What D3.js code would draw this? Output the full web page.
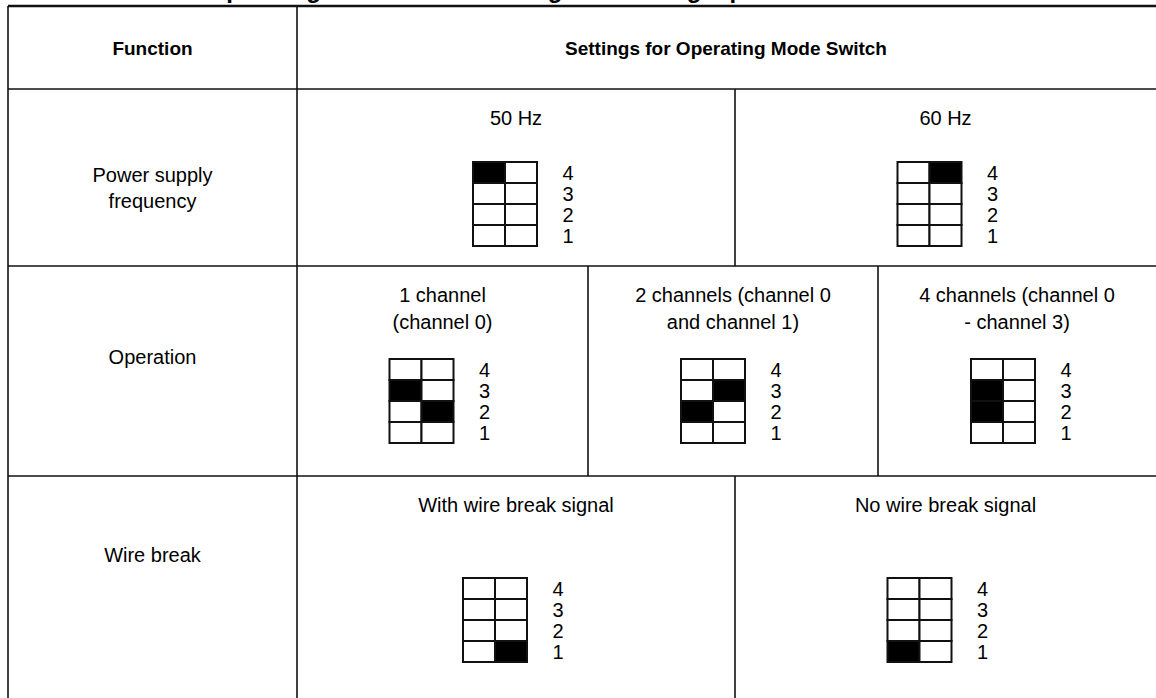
<!DOCTYPE html>
<html>
<head>
<meta charset="utf-8">
<style>
  body { margin: 0; background: #fff; }
  text { font-family: "Liberation Sans", Arial, sans-serif; fill: #000; }
</style>
<script src="https://d3js.org/d3.v7.min.js"></script>
</head>
<body>
<svg width="1156" height="698"></svg>
<script>
// table content
var title = "Table 4-2  Operating Mode Switch Settings for Analog Input Module";
var headers = ["Function", "Settings for Operating Mode Switch"];
var functions = [["Power supply", "frequency"], ["Operation"], ["Wire break"]];
var options = [
  [["50 Hz"], ["60 Hz"]],
  [["1 channel", "(channel 0)"], ["2 channels (channel 0", "and channel 1)"], ["4 channels (channel 0", "- channel 3)"]],
  [["With wire break signal"], ["No wire break signal"]]
];
// switch positions 4..1 (top to bottom), columns left/right; 1 = dark
var switches = [
  [ [[1,0],[0,0],[0,0],[0,0]], [[0,1],[0,0],[0,0],[0,0]] ],
  [ [[0,0],[1,0],[0,1],[0,0]], [[0,0],[0,1],[1,0],[0,0]], [[0,0],[1,0],[1,0],[0,0]] ],
  [ [[0,0],[0,0],[0,0],[0,1]], [[0,0],[0,0],[0,0],[1,0]] ]
];
var positionLabels = ["4", "3", "2", "1"];

var svg = d3.select("svg");

// layout
var left = 8, funcRight = 297, right = 1170;
var rowEdges = [6, 89, 266, 476, 720];
var y = d3.scaleLinear().domain([0, 1, 2, 3, 4]).range(rowEdges);
var cellEdges = [[297, 735, 1156], [297, 588, 878, 1156], [297, 735, 1156]];
var gridShift = [[-43, -48], [-53, -52, -46], [-53, -58]];
var gridTop = [162, 359, 578];

// title, clipped at top of the page
var tt = svg.append("text")
  .attr("x", 0).attr("y", -2)
  .attr("font-size", "24px").attr("font-weight", "bold")
  .text(title);
var pIdx = title.indexOf("Operating") + 1;
var px = tt.node().getStartPositionOfChar(pIdx).x;
tt.attr("x", 241 - px);

var lines = svg.append("g").attr("stroke", "#111").attr("stroke-width", 1.6);

lines.append("line").attr("x1", left).attr("x2", right).attr("y1", y(0)).attr("y2", y(0)).attr("stroke-width", 2.4);
lines.append("line").attr("x1", left).attr("x2", left).attr("y1", y(0)).attr("y2", y(4));
lines.append("line").attr("x1", funcRight).attr("x2", funcRight).attr("y1", y(0)).attr("y2", y(4));
[1, 2, 3].forEach(function(i) {
  lines.append("line").attr("x1", left).attr("x2", right).attr("y1", y(i)).attr("y2", y(i));
});

// header
svg.append("text").attr("x", (left + funcRight) / 2).attr("y", y(0.5) + 7)
  .attr("text-anchor", "middle").attr("font-size", "19px").attr("font-weight", "bold").text(headers[0]);
svg.append("text").attr("x", 726).attr("y", y(0.5) + 7)
  .attr("text-anchor", "middle").attr("font-size", "19px").attr("font-weight", "bold").text(headers[1]);

// function names
var funcY = [175, 357, 555];
functions.forEach(function(f, i) {
  var t = svg.append("text").attr("text-anchor", "middle").attr("font-size", "20px");
  f.forEach(function(s, j) {
    t.append("tspan").attr("x", (left + funcRight) / 2).attr("y", funcY[i] + j * 26 + 7).text(s);
  });
});

// option cells
options.forEach(function(row, r) {
  var edges = cellEdges[r];
  row.forEach(function(lbl, c) {
    var x0 = edges[c], x1 = edges[c + 1];
    var cx = (x0 + x1) / 2;
    if (c > 0) {
      lines.append("line").attr("x1", x0).attr("x2", x0).attr("y1", y(r + 1)).attr("y2", y(r + 2));
    }
    var top = y(r + 1);
    var t = svg.append("text").attr("text-anchor", "middle").attr("font-size", "20px");
    lbl.forEach(function(s, j) {
      t.append("tspan").attr("x", cx).attr("y", top + 36 + j * 27).text(s);
    });

    // switch grid
    var gx = cx + gridShift[r][c];
    var gy = gridTop[r];
    var colX = d3.scaleBand().domain([0, 1]).range([gx, gx + 64]);
    var rowY = d3.scaleBand().domain(d3.range(4)).range([gy, gy + 84]);
    var g = svg.append("g");
    var cells = [];
    switches[r][c].forEach(function(pair, i) {
      pair.forEach(function(v, k) { cells.push({ row: i, col: k, on: v }); });
    });
    g.selectAll("rect").data(cells).enter().append("rect")
      .attr("x", function(d) { return colX(d.col); })
      .attr("y", function(d) { return rowY(d.row); })
      .attr("width", colX.bandwidth())
      .attr("height", rowY.bandwidth())
      .attr("fill", function(d) { return d.on ? "#000" : "#fff"; })
      .attr("stroke", "#111").attr("stroke-width", 2);
    g.selectAll("text").data(positionLabels).enter().append("text")
      .attr("x", gx + 95).attr("y", function(d, i) { return rowY(i) + rowY.bandwidth() / 2 + 7; })
      .attr("text-anchor", "middle").attr("font-size", "20px")
      .text(function(d) { return d; });
  });
});
</script>
</body>
</html>
